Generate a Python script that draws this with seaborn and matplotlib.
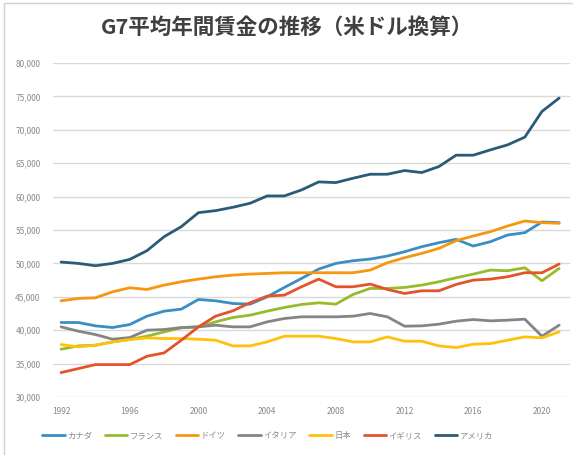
import pandas as pd
import matplotlib
matplotlib.use("Agg")
import matplotlib.pyplot as plt
from matplotlib.ticker import FuncFormatter
from matplotlib.patches import Rectangle
import seaborn as sns

# --- データ (米ドル換算の平均年間賃金) ---
years = list(range(1992, 2022))
countries = ['カナダ', 'フランス', 'ドイツ', 'イタリア', '日本', 'イギリス', 'アメリカ']

canada = [41150, 41150, 40650, 40400, 40850, 42100, 42850, 43150, 44600, 44400,
          44000, 43900, 45000, 46400, 47750, 49150, 50000, 50400, 50650, 51100,
          51750, 52500, 53100, 53600, 52600, 53250, 54250, 54600, 56200, 56100]
france = [37150, 37650, 37750, 38250, 38600, 39100, 39750, 40350, 40500, 41250,
          41900, 42250, 42850, 43400, 43850, 44100, 43900, 45350, 46250, 46250,
          46400, 46750, 47250, 47850, 48400, 49000, 48900, 49350, 47400, 49250]
germany = [44400, 44750, 44850, 45750, 46350, 46100, 46750, 47250, 47650, 48000,
           48250, 48400, 48500, 48600, 48600, 48600, 48600, 48600, 49000, 50100,
           50850, 51500, 52250, 53400, 54100, 54750, 55600, 56350, 56100, 56000]
italy = [40500, 39850, 39350, 38650, 38900, 40000, 40100, 40400, 40500, 40750,
         40500, 40500, 41250, 41750, 42000, 42000, 42000, 42100, 42500, 42000,
         40600, 40650, 40900, 41350, 41600, 41400, 41500, 41650, 39100, 40750]
japan = [37850, 37500, 37750, 38250, 38600, 38850, 38750, 38750, 38650, 38500,
         37650, 37650, 38250, 39100, 39100, 39100, 38750, 38250, 38250, 39000,
         38350, 38350, 37650, 37400, 37900, 38000, 38500, 39000, 38850, 39750]
uk = [33650, 34250, 34850, 34850, 34850, 36100, 36600, 38500, 40500, 42100,
      42900, 44100, 45100, 45250, 46500, 47650, 46500, 46500, 46900, 46100,
      45500, 45900, 45900, 46850, 47500, 47650, 48000, 48600, 48600, 49900]
usa = [50200, 50000, 49650, 50000, 50600, 51900, 54000, 55500, 57600, 57900,
       58400, 59000, 60100, 60100, 61000, 62200, 62100, 62750, 63350, 63350,
       63900, 63600, 64500, 66200, 66200, 67000, 67750, 68900, 72750, 74750]

x_ticks = [1992, 1996, 2000, 2004, 2008, 2012, 2016, 2020]
y_ticks = list(range(30000, 80001, 5000))

series = [canada, france, germany, italy, japan, uk, usa]
colores = ['#3b8ec4', '#97bb2c', '#f7960f', '#858585', '#ffc20a', '#e5532b', '#2b5b77']

df = pd.DataFrame({
    'year': years * len(countries),
    'wage': sum(series, []),
    'country': [c for c in countries for _ in years],
})

# --- GRÁFICA ---
sns.set_style('white')
plt.rcParams['font.family'] = ['Noto Sans CJK JP', 'DejaVu Sans']

fig = plt.figure(figsize=(5.73, 4.55), dpi=100)
ax = fig.add_axes([0.0925, 0.1275, 0.9025, 0.734])

sns.lineplot(data=df, x='year', y='wage', hue='country', hue_order=countries,
             palette=dict(zip(countries, colores)), linewidth=2.0, ax=ax)

ax.set_xlim(1991.53, 2021.64)
ax.set_ylim(30000, 80000)
ax.set_xticks(x_ticks)
ax.set_yticks(y_ticks)
ax.yaxis.set_major_formatter(FuncFormatter(lambda v, p: f'{int(v):,}'))
ax.tick_params(axis='both', length=0, labelsize=6, colors='#8a8a8a')
ax.tick_params(axis='y', pad=9)
ax.tick_params(axis='x', pad=7)
ax.grid(axis='y', color='#d9d9d9', linewidth=1.0)
ax.set_axisbelow(True)
sns.despine(ax=ax, left=True, bottom=True)
ax.set_xlabel('')
ax.set_ylabel('')

fig.text(0.5, 0.94, 'G7平均年間賃金の推移（米ドル換算）', ha='center', va='center',
         fontsize=15.5, fontweight='bold', color='#404040')

handles, labels = ax.get_legend_handles_labels()
ax.legend_.remove()
fig.legend(handles, labels, loc='center', bbox_to_anchor=(0.467, 0.042), ncol=7,
           frameon=False, fontsize=6, labelcolor='#8a8a8a', handlelength=2.7,
           handletextpad=0.3, columnspacing=1.5)

# marco del gráfico
fig.patches.append(Rectangle((0.007, -0.1), 1.2, 1.093, transform=fig.transFigure,
                             fill=False, edgecolor='#d0d0d0', linewidth=1.0))

fig.savefig('out.png', dpi=100)
